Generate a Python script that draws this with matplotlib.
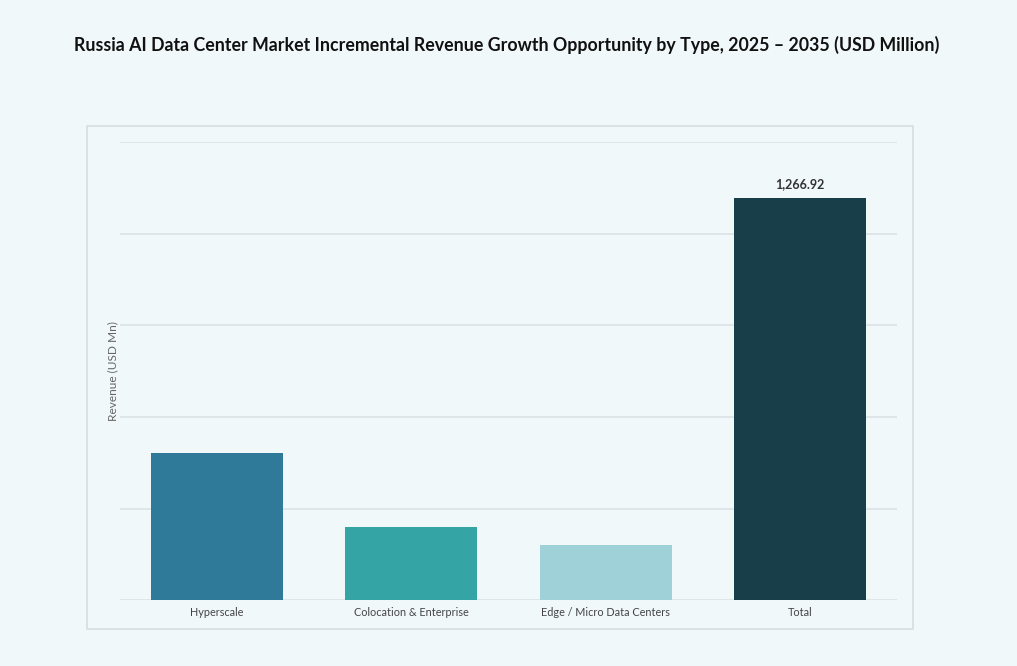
import matplotlib.pyplot as plt
from matplotlib.patches import Rectangle

# Data
categories = ['Hyperscale', 'Colocation & Enterprise', 'Edge / Micro Data Centers', 'Total']
revenue = [462.6, 229.7, 174.0, 1266.92]
bar_colors = ['#2f7a99', '#35a4a5', '#9fd2d8', '#183e4a']
grid_step = 288.3

plt.rcParams['font.family'] = ['Lato', 'DejaVu Sans']

bg = '#f1f8f9'
fig = plt.figure(figsize=(10.17, 6.66), dpi=100, facecolor=bg)

# outer panel box
fig.patches.append(Rectangle((86.7 / 1017, 1 - 629 / 666), (912.7 - 86.7) / 1017, (629 - 126) / 666,
                             transform=fig.transFigure, facecolor=bg, edgecolor='#d5dfe1', lw=1.2, zorder=-1))

ax = fig.add_axes([120 / 1017, 1 - 600.3 / 666, (897 - 120) / 1017, (600.3 - 142.3) / 666])
ax.set_facecolor('none')
ax.set_zorder(1)

x = range(len(categories))
ax.bar(x, revenue, width=0.68, color=bar_colors, zorder=3)

ax.set_xlim(-0.5, 3.5)
ax.set_ylim(0, grid_step * 5)
ax.set_yticks([grid_step * i for i in range(6)])
ax.yaxis.grid(True, color='#d9e3e5', lw=1.2, zorder=0)
ax.tick_params(axis='y', length=0, labelleft=False)
ax.tick_params(axis='x', length=0, pad=4.5, labelsize=7.8, labelcolor='#444444')
ax.set_xticks(list(x))
ax.set_xticklabels(categories)
for s in ax.spines.values():
    s.set_visible(False)

ax.set_ylabel('Revenue (USD Mn)', fontsize=8.6, color='#666666', labelpad=1)

# value label on total bar only
ax.text(3, revenue[3] + 25, '{:,.2f}'.format(revenue[3]), ha='center', va='bottom',
        fontsize=9, fontweight='bold', color='#333333')

fig.text(0.4985, 1 - 45 / 666, 'Russia AI Data Center Market Incremental Revenue Growth Opportunity by Type, 2025 \u2013 2035 (USD Million)',
         ha='center', va='center', fontsize=12.8, fontweight='bold', color='#111111')

fig.savefig('out.png', dpi=100, facecolor=bg)
